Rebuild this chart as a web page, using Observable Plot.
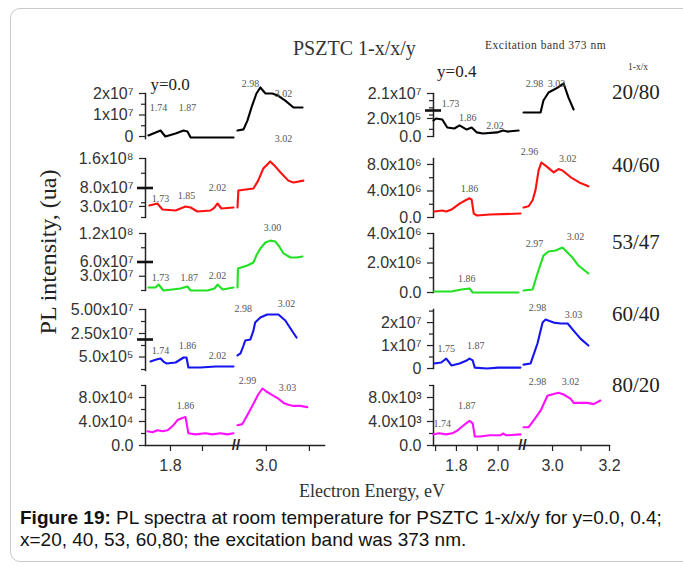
<!DOCTYPE html>
<html><head><meta charset="utf-8">
<script src="https://cdn.jsdelivr.net/npm/d3@7"></script>
<script src="https://cdn.jsdelivr.net/npm/@observablehq/plot@0.6"></script>
<style>
body{margin:0;background:#fff;}
#page{position:relative;width:683px;height:566px;overflow:hidden;background:#fff;font-family:"Liberation Serif","Times New Roman",serif;}
.card{position:absolute;left:10px;top:8px;width:720px;height:554px;border:1px solid #c9c9c9;border-radius:10px;box-sizing:border-box;}
.t{position:absolute;white-space:nowrap;color:#333;line-height:1;transform:translateY(-50%);}
</style></head><body><div id="page"><div class="card"></div>
<div class="t" style="left:293px;top:48px;font-size:20px;">PSZTC 1-x/x/y</div>
<div class="t" style="left:485px;top:46px;font-size:11.5px;letter-spacing:0.5px;">Excitation band 373 nm</div>
<div class="t" style="left:628px;top:68px;font-size:9.5px;">1-x/x</div>
<div class="t" style="left:612px;top:92px;font-size:21px;color:#222;">20/80</div>
<div class="t" style="left:612px;top:165px;font-size:21px;color:#222;">40/60</div>
<div class="t" style="left:612px;top:242px;font-size:21px;color:#222;">53/47</div>
<div class="t" style="left:612px;top:314px;font-size:21px;color:#222;">60/40</div>
<div class="t" style="left:612px;top:385px;font-size:21px;color:#222;">80/20</div>
<div class="t" style="left:48px;top:252px;font-size:24px;color:#222;transform:translate(-50%,-50%) rotate(-90deg);">PL intensity, (ua)</div>
<div class="t" style="left:372px;top:491px;font-size:18px;transform:translate(-50%,-50%);">Electron Energy, eV</div>
<div style="position:absolute;left:20px;top:507px;font-family:'Liberation Sans',Arial,sans-serif;font-size:19px;line-height:22px;color:#111;white-space:nowrap;"><b>Figure 19:</b> PL spectra at room temperature for PSZTC 1-x/x/y for y=0.0, 0.4;<br>x=20, 40, 53, 60,80; the excitation band was 373 nm.</div>
</div>
<script>
// ---------- data: y = 0.0 column (energy eV, PL intensity) ----------
const black20_80_y0_lo = [[1.731,5e5],[1.769,2.8e6],[1.784,0],[1.816,1.4e6],[1.841,2.8e6],[1.853,2.3e6],[1.863,-5e5],[1.894,-5e5],[1.997,-5e5]];
const black20_80_y0_hi = [[2.933,2.8e6],[2.947,3.3e6],[2.956,7.4e6],[2.967,1.44e7],[2.977,2.0e7],[2.986,2.28e7],[2.998,2.0e7],[3.014,2.0e7],[3.026,1.91e7],[3.044,1.67e7],[3.063,1.35e7],[3.084,1.35e7]];
const red40_60_y0_lo = [[1.734,3.25e7],[1.759,3.8e7],[1.775,2.17e7],[1.816,1.9e7],[1.847,2.98e7],[1.863,2.71e7],[1.884,1.63e7],[1.925,1.9e7],[1.9375,2.7e7],[1.947,3.8e7],[1.959,2.44e7],[1.997,2.71e7]];
const red40_60_y0_hi = [[2.933,2.71e7],[2.935,7.3e7],[2.970,7.86e7],[2.981,1.0e8],[2.993,1.33e8],[3.009,1.52e8],[3.021,1.38e8],[3.033,1.22e8],[3.051,1.0e8],[3.063,9.5e7],[3.086,1.0e8]];
const green53_47_y0_lo = [[1.731,6.3e6],[1.753,6.3e6],[1.763,1.26e7],[1.778,0],[1.806,2.1e6],[1.831,4.2e6],[1.853,8.4e6],[1.863,0],[1.916,0],[1.9375,4.2e6],[1.947,1.26e7],[1.963,2.1e6],[1.997,6.3e6]];
const green53_47_y0_hi = [[2.933,6.3e6],[2.934,4.63e7],[2.956,5.26e7],[2.970,5.9e7],[2.977,7.4e7],[2.986,8.84e7],[2.998,1.01e8],[3.009,1.05e8],[3.021,1.03e8],[3.030,9.26e7],[3.040,7.8e7],[3.056,6.95e7],[3.070,6.95e7],[3.084,7.16e7]];
const blue60_40_y0_lo = [[1.7375,-4.2e6],[1.756,-2.1e6],[1.769,-1.0e6],[1.778,-4.2e6],[1.7875,-6.2e6],[1.816,-5.2e6],[1.841,0],[1.85,0],[1.856,-1.04e7],[1.894,-1.04e7],[1.941,-9.4e6],[1.997,-9.4e6]];
const blue60_40_y0_hi = [[2.933,2.1e6],[2.940,4.2e6],[2.947,1.25e7],[2.951,1.77e7],[2.963,1.88e7],[2.970,2.8e7],[2.974,3.65e7],[2.986,4.17e7],[3.002,4.48e7],[3.028,4.48e7],[3.044,3.85e7],[3.056,3.02e7],[3.070,2.08e7]];
const magenta80_20_y0_lo = [[1.728,2.37e4],[1.744,2.2e4],[1.759,2.54e4],[1.775,2.37e4],[1.791,2.54e4],[1.806,3.2e4],[1.822,4.24e4],[1.8375,4.58e4],[1.847,4.75e4],[1.856,2.03e4],[1.878,1.86e4],[1.909,2.03e4],[1.931,1.86e4],[1.956,2.03e4],[1.978,1.86e4],[1.997,2.03e4]];
const magenta80_20_y0_hi = [[2.933,3.39e4],[2.944,3.56e4],[2.956,5.1e4],[2.970,6.95e4],[2.981,8.5e4],[2.991,9.5e4],[3.0,9.0e4],[3.009,8.6e4],[3.016,8.3e4],[3.028,7.8e4],[3.040,7.1e4],[3.051,6.8e4],[3.063,6.6e4],[3.079,6.6e4],[3.095,6.4e4]];
// ---------- data: y = 0.4 column ----------
const black20_80_y4_lo = [[1.69,7.8e6],[1.702,8.8e6],[1.732,8.3e6],[1.756,4.4e6],[1.79,3.9e6],[1.815,5.4e6],[1.849,3.4e6],[1.873,4.4e6],[1.898,2.0e6],[1.927,1.5e6],[1.995,2.0e6],[2.024,2.9e6],[2.044,2.4e6],[2.098,2.9e6]];
const black20_80_y4_hi = [[2.898,1.17e7],[2.958,1.17e7],[2.968,1.76e7],[2.986,2.15e7],[3.018,2.39e7],[3.039,2.59e7],[3.056,1.9e7],[3.074,1.32e7]];
const red40_60_y4_lo = [[1.693,9e5],[1.732,1.06e6],[1.751,9e5],[1.776,1.2e6],[1.815,2.1e6],[1.844,2.6e6],[1.863,2.9e6],[1.873,2.7e6],[1.883,6e5],[1.898,3e5],[1.961,4.5e5],[2.107,6e5]];
const red40_60_y4_hi = [[2.898,1.5e6],[2.916,1.7e6],[2.93,2.6e6],[2.94,4.1e6],[2.951,7.1e6],[2.961,8.3e6],[2.982,7.6e6],[3.004,6.8e6],[3.021,7.3e6],[3.035,7.1e6],[3.063,6.1e6],[3.098,5.2e6],[3.126,4.7e6]];
const green53_47_y4_lo = [[1.693,7e4],[1.776,7e4],[1.824,2e5],[1.863,2.7e5],[1.878,0],[2.098,0]];
const green53_47_y4_hi = [[2.898,1.4e5],[2.93,2e5],[2.947,1.29e6],[2.968,2.5e6],[2.986,2.78e6],[3.011,2.85e6],[3.035,3.05e6],[3.07,2.37e6],[3.091,1.83e6],[3.126,1.29e6]];
const blue60_40_y4_lo = [[1.693,2.2e6],[1.727,2.6e6],[1.751,4.3e6],[1.766,2.6e6],[1.776,1.3e6],[1.815,2.2e6],[1.849,3.5e6],[1.863,4.3e6],[1.878,3.5e6],[1.888,4e5],[1.946,0],[2.0,4e5],[2.107,4e5]];
const blue60_40_y4_hi = [[2.898,1.7e6],[2.923,2.2e6],[2.947,1.09e7],[2.965,2.0e7],[2.975,2.13e7],[3.004,2.0e7],[3.028,1.96e7],[3.053,1.96e7],[3.074,1.65e7],[3.098,1.3e7],[3.126,1.0e7]];
const magenta80_20_y4_lo = [[1.69,1.86e3],[1.717,2.03e3],[1.751,1.86e3],[1.78,2.03e3],[1.805,2.5e3],[1.829,3.2e3],[1.854,3.9e3],[1.863,4.1e3],[1.878,3.7e3],[1.888,1.5e3],[1.912,1.5e3],[1.961,1.7e3],[2.01,1.7e3],[2.024,2.0e3],[2.039,1.7e3],[2.107,1.86e3]];
const magenta80_20_y4_hi = [[2.898,3.05e3],[2.916,3.05e3],[2.937,4.4e3],[2.958,5.8e3],[2.982,8.3e3],[3.004,8.6e3],[3.021,8.8e3],[3.039,8.5e3],[3.063,7.8e3],[3.074,7.1e3],[3.098,7.1e3],[3.123,7.1e3],[3.144,6.9e3],[3.168,7.5e3]];

// ---------- peak annotations [label, energy, intensity] ----------
const notesL1 = [["1.74",1.7625,1.35e7],["1.87",1.853,1.35e7],["2.98",2.963,2.47e7],["3.02",3.04,2.0e7]];
const notesL2 = [["1.73",1.769,5.15e7],["1.85",1.85,5.97e7],["2.02",1.947,8.1e7],["3.02",3.04,2.14e8]];
const notesL3 = [["1.73",1.769,2.74e7],["1.87",1.859,2.74e7],["2.02",1.947,3.16e7],["3.00",3.014,1.33e8]];
const notesL4 = [["1.74",1.769,7.3e6],["1.86",1.853,1.25e7],["2.02",1.947,2.1e6],["2.98",2.9465,5.1e7],["3.02",3.0465,5.6e7]];
const notesL5 = [["1.86",1.847,6.6e4],["2.99",2.956,1.085e5],["3.03",3.049,9.66e4]];
const notesR1 = [["1.73",1.771,1.61e7],["1.86",1.854,9.3e6],["2.02",1.985,5.4e6],["2.98",2.937,2.59e7],["3.03",3.014,2.59e7]];
const notesR2 = [["1.86",1.863,4.4e6],["2.96",2.919,9.85e6],["3.02",3.053,8.9e6]];
const notesR3 = [["1.86",1.849,9.5e5],["2.97",2.937,3.32e6],["3.02",3.081,3.8e6]];
const notesR4 = [["1.75",1.751,8.7e6],["1.87",1.893,1.0e7],["2.98",2.947,2.65e7],["3.03",3.074,2.35e7]];
const notesR5 = [["1.74",1.732,3.7e3],["1.87",1.849,6.6e3],["2.98",2.947,1.07e4],["3.02",3.063,1.07e4]];
const tagY0 = ["y=0.0", 1.7375, 2.42e7];
const tagY4 = ["y=0.4", 1.707, 3.17e7];

// ---------- tick values and labels ----------
const ticksL1 = [0,1e7,2e7], labelsL1 = ["0","1x10⁷","2x10⁷"], minorL1 = [5e6,1.5e7];
const ticksL2 = [3e7,8e7,1.6e8], labelsL2 = ["3.0x10⁷","8.0x10⁷","1.6x10⁸"], minorL2 = [0,4e7,1.2e8];
const ticksL3 = [3e7,6e7,1.2e8], labelsL3 = ["3.0x10⁷","6.0x10⁷","1.2x10⁸"], minorL3 = [0,9e7];
const ticksL4 = [5e5,2.5e7,5e7], labelsL4 = ["5.0x10⁵","2.50x10⁷","5.00x10⁷"], minorL4 = [-1.25e7,1.25e7,3.75e7];
const ticksL5 = [0,4e4,8e4], labelsL5 = ["0.0","4.0x10⁴","8.0x10⁴"], minorL5 = [2e4,6e4,1e5];
const ticksR1 = [0,8.8e6,2.1e7], labelsR1 = ["0.0","2.0x10⁵","2.1x10⁷"], minorR1 = [3.5e6,1.05e7,1.4e7,1.75e7];
const ticksR2 = [0,4e6,8e6], labelsR2 = ["0.0","4.0x10⁶","8.0x10⁶"], minorR2 = [2e6,6e6];
const ticksR3 = [0,2e6,4e6], labelsR3 = ["0.0","2.0x10⁶","4.0x10⁶"], minorR3 = [1e6,3e6];
const ticksR4 = [0,1e7,2e7], labelsR4 = ["0","1x10⁷","2x10⁷"], minorR4 = [5e6,1.5e7,2.5e7];
const ticksR5 = [0,4e3,8e3], labelsR5 = ["0.0","4.0x10³","8.0x10³"], minorR5 = [2e3,6e3,1e4];
const xMajorLeft = [1.8, 3.0], xMinorLeft = [1.9, 3.1];
const xMajorRight = [1.8, 2.0, 3.0, 3.2], xMinorRight = [1.7, 1.9, 3.1];

// ---------- layout ----------
const leftCol = {left:145, right:324, domain:[1.722, 2.0, 2.933, 3.135], px:[145, 234, 237, 324], gap: 2.47, xMajor: xMajorLeft, xMinor: xMinorLeft};
const rightCol = {left:433, right:609, domain:[1.69, 2.112, 2.898, 3.2], px:[433, 521, 523, 609], gap: 2.5, xMajor: xMajorRight, xMinor: xMinorRight};
const serif = '"Liberation Serif","Times New Roman",serif';
const sans = '"Liberation Sans",Arial,sans-serif';

const panels = [
  {col:leftCol, top:93, bottom:138.15, yDomain:[-1e6,2e7], color:"#000000", lo:black20_80_y0_lo, hi:black20_80_y0_hi, ticks:ticksL1, labels:labelsL1, minor:minorL1, thick:null, notes:notesL1, tag:tagY0},
  {col:leftCol, top:158, bottom:217, yDomain:[0,1.6e8], color:"#ff1010", lo:red40_60_y0_lo, hi:red40_60_y0_hi, ticks:ticksL2, labels:labelsL2, minor:minorL2, thick:8e7, notes:notesL2},
  {col:leftCol, top:233, bottom:290, yDomain:[0,1.2e8], color:"#22e022", lo:green53_47_y0_lo, hi:green53_47_y0_hi, ticks:ticksL3, labels:labelsL3, minor:minorL3, thick:6e7, notes:notesL3},
  {col:leftCol, top:309, bottom:370, yDomain:[-1.354e7,5e7], color:"#1515f0", lo:blue60_40_y0_lo, hi:blue60_40_y0_hi, ticks:ticksL4, labels:labelsL4, minor:minorL4, thick:1.875e7, notes:notesL4},
  {col:leftCol, top:385, bottom:445, yDomain:[0,1e5], color:"#ff10ff", lo:magenta80_20_y0_lo, hi:magenta80_20_y0_hi, ticks:ticksL5, labels:labelsL5, minor:minorL5, thick:null, notes:notesL5, bottomAxis:true},
  {col:rightCol, top:93, bottom:136, yDomain:[0,2.1e7], color:"#000000", lo:black20_80_y4_lo, hi:black20_80_y4_hi, ticks:ticksR1, labels:labelsR1, minor:minorR1, thick:1.27e7, notes:notesR1, tag:tagY4},
  {col:rightCol, top:158, bottom:217, yDomain:[0,8.9e6], color:"#ff1010", lo:red40_60_y4_lo, hi:red40_60_y4_hi, ticks:ticksR2, labels:labelsR2, minor:minorR2, thick:null, notes:notesR2},
  {col:rightCol, top:233, bottom:292, yDomain:[0,4e6], color:"#22e022", lo:green53_47_y4_lo, hi:green53_47_y4_hi, ticks:ticksR3, labels:labelsR3, minor:minorR3, thick:null, notes:notesR3},
  {col:rightCol, top:309, bottom:368, yDomain:[0,2.57e7], color:"#1515f0", lo:blue60_40_y4_lo, hi:blue60_40_y4_hi, ticks:ticksR4, labels:labelsR4, minor:minorR4, thick:null, notes:notesR4},
  {col:rightCol, top:385, bottom:445, yDomain:[0,1e4], color:"#ff10ff", lo:magenta80_20_y4_lo, hi:magenta80_20_y4_hi, ticks:ticksR5, labels:labelsR5, minor:minorR5, thick:null, notes:notesR5, bottomAxis:true}
];

const page = document.getElementById("page");
const ink = "#222";
for (const p of panels) {
  const c = p.col;
  const ml = 100, mr = 40, mt = 32, mb = p.bottomAxis ? 48 : 10;
  const W = c.right - c.left + ml + mr;
  const H = p.bottom - p.top + mt + mb;
  const offX = c.left - ml, offY = p.top - mt;
  const rows = [...p.lo.map(([e, v]) => ({e, v, s: "lo"})), ...p.hi.map(([e, v]) => ({e, v, s: "hi"}))];
  const labelOf = new Map(p.ticks.map((t, i) => [t, p.labels[i]]));
  const marks = [
    Plot.frame({anchor: "left", stroke: ink, strokeWidth: 1.5}),
    Plot.axisY(p.minor, {anchor: "left", tickSize: 4, text: null, label: null, stroke: ink, strokeWidth: 1.2}),
    Plot.axisY(p.ticks, {anchor: "left", tickSize: 6, tickPadding: 6, tickFormat: d => labelOf.get(d), label: null, stroke: ink, strokeWidth: 1.2, fill: "#333", fontSize: 16})
  ];
  if (p.thick != null) {
    marks.push(
      Plot.axisY([p.thick], {anchor: "left", tickSize: 8, text: null, label: null, stroke: "#111", strokeWidth: 2.6}),
      Plot.axisY([p.thick], {anchor: "left", tickSize: 8, text: null, label: null, stroke: "#111", strokeWidth: 2.6, dx: 8})
    );
  }
  if (p.bottomAxis) {
    marks.push(
      Plot.frame({anchor: "bottom", stroke: ink, strokeWidth: 1.5}),
      Plot.axisX(c.xMinor, {anchor: "bottom", tickSize: 6, text: null, label: null, stroke: ink, strokeWidth: 1.2}),
      Plot.axisX(c.xMajor, {anchor: "bottom", tickSize: 6, tickPadding: 8, tickFormat: d => d.toFixed(1), label: null, stroke: ink, strokeWidth: 1.2, fill: "#333", fontSize: 16}),
      Plot.text([c.gap], {x: d => d, y: () => p.yDomain[0], text: () => "//", fontSize: 15, fontWeight: "bold", fill: ink})
    );
  }
  marks.push(Plot.line(rows, {x: "e", y: "v", z: "s", stroke: p.color, strokeWidth: 2.1}));
  marks.push(Plot.text(p.notes, {x: d => d[1], y: d => d[2], text: d => d[0], fontFamily: serif, fontSize: 10, fill: "#555"}));
  if (p.tag) marks.push(Plot.text([p.tag], {x: d => d[1], y: d => d[2], text: d => d[0], textAnchor: "start", fontFamily: serif, fontSize: 17, fill: "#222"}));
  const svg = Plot.plot({
    width: W, height: H,
    marginLeft: ml, marginRight: mr, marginTop: mt, marginBottom: mb,
    x: {type: "linear", domain: c.domain, range: c.px.map(v => v - offX), axis: null},
    y: {domain: p.yDomain, axis: null},
    style: {background: "transparent", overflow: "visible", fontFamily: sans, fontSize: "16px", color: "#333"},
    marks
  });
  svg.style.position = "absolute";
  svg.style.left = offX + "px";
  svg.style.top = offY + "px";
  page.appendChild(svg);
}
</script>
</body></html>
